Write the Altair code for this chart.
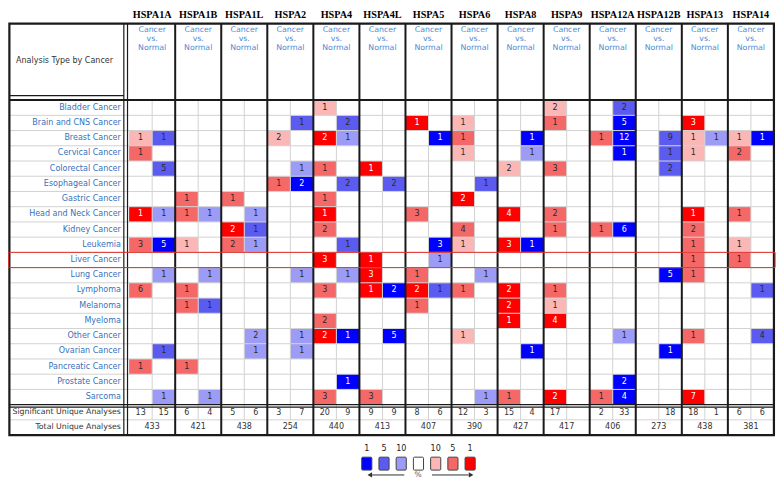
import altair as alt
import pandas as pd

GENES = ["HSPA1A", "HSPA1B", "HSPA1L", "HSPA2", "HSPA4", "HSPA4L", "HSPA5",
         "HSPA6", "HSPA8", "HSPA9", "HSPA12A", "HSPA12B", "HSPA13", "HSPA14"]
CANCERS = ["Bladder Cancer", "Brain and CNS Cancer", "Breast Cancer", "Cervical Cancer",
           "Colorectal Cancer", "Esophageal Cancer", "Gastric Cancer", "Head and Neck Cancer",
           "Kidney Cancer", "Leukemia", "Liver Cancer", "Lung Cancer", "Lymphoma", "Melanoma",
           "Myeloma", "Other Cancer", "Ovarian Cancer", "Pancreatic Cancer", "Prostate Cancer",
           "Sarcoma"]
SIG_UP = [13, 6, 5, 3, 20, 9, 8, 12, 15, 17, 2, None, 18, 6]
SIG_DOWN = [15, 4, 6, 7, 9, 9, 6, 3, 4, None, 33, 18, 1, 6]
TOTAL = [433, 421, 438, 254, 440, 413, 407, 390, 427, 417, 406, 273, 438, 381]
LEGEND_LABELS = ["1", "5", "10", "", "10", "5", "1"]
LEGEND_KEYS = ["down1", "down2", "down3", "none", "up3", "up2", "up1"]

# (cancer, direction, number of analyses, gene-rank level: 1 = top 1%, 2 = top 5%, 3 = top 10%)
HSPA1A = [("Breast Cancer", "up", 1, 3), ("Cervical Cancer", "up", 1, 2),
          ("Head and Neck Cancer", "up", 1, 1), ("Leukemia", "up", 3, 2),
          ("Lymphoma", "up", 6, 2), ("Pancreatic Cancer", "up", 1, 2),
          ("Breast Cancer", "down", 1, 2), ("Colorectal Cancer", "down", 5, 2),
          ("Head and Neck Cancer", "down", 1, 3), ("Leukemia", "down", 5, 1),
          ("Lung Cancer", "down", 1, 3), ("Ovarian Cancer", "down", 1, 2),
          ("Sarcoma", "down", 1, 3)]
HSPA1B = [("Gastric Cancer", "up", 1, 2), ("Head and Neck Cancer", "up", 1, 2),
          ("Leukemia", "up", 1, 3), ("Lymphoma", "up", 1, 2), ("Melanoma", "up", 1, 2),
          ("Pancreatic Cancer", "up", 1, 2),
          ("Head and Neck Cancer", "down", 1, 3), ("Lung Cancer", "down", 1, 3),
          ("Melanoma", "down", 1, 2), ("Sarcoma", "down", 1, 3)]
HSPA1L = [("Gastric Cancer", "up", 1, 2), ("Kidney Cancer", "up", 2, 1), ("Leukemia", "up", 2, 2),
          ("Head and Neck Cancer", "down", 1, 3), ("Kidney Cancer", "down", 1, 2),
          ("Leukemia", "down", 1, 3), ("Other Cancer", "down", 2, 3),
          ("Ovarian Cancer", "down", 1, 3)]
HSPA2 = [("Breast Cancer", "up", 2, 3), ("Esophageal Cancer", "up", 1, 2),
         ("Brain and CNS Cancer", "down", 1, 2), ("Colorectal Cancer", "down", 1, 3),
         ("Esophageal Cancer", "down", 2, 1), ("Lung Cancer", "down", 1, 3),
         ("Other Cancer", "down", 1, 3), ("Ovarian Cancer", "down", 1, 3)]
HSPA4 = [("Bladder Cancer", "up", 1, 3), ("Breast Cancer", "up", 2, 1),
         ("Colorectal Cancer", "up", 1, 2), ("Gastric Cancer", "up", 1, 2),
         ("Head and Neck Cancer", "up", 1, 1), ("Kidney Cancer", "up", 2, 2),
         ("Liver Cancer", "up", 3, 1), ("Lymphoma", "up", 3, 2), ("Myeloma", "up", 2, 2),
         ("Other Cancer", "up", 2, 1), ("Sarcoma", "up", 3, 2),
         ("Brain and CNS Cancer", "down", 2, 2), ("Breast Cancer", "down", 1, 3),
         ("Esophageal Cancer", "down", 2, 2), ("Leukemia", "down", 1, 2),
         ("Lung Cancer", "down", 1, 3), ("Other Cancer", "down", 1, 1),
         ("Prostate Cancer", "down", 1, 1)]
HSPA4L = [("Colorectal Cancer", "up", 1, 1), ("Liver Cancer", "up", 1, 1),
          ("Lung Cancer", "up", 3, 1), ("Lymphoma", "up", 1, 1), ("Sarcoma", "up", 3, 2),
          ("Esophageal Cancer", "down", 2, 2), ("Lymphoma", "down", 2, 1),
          ("Other Cancer", "down", 5, 1)]
HSPA5 = [("Brain and CNS Cancer", "up", 1, 1), ("Head and Neck Cancer", "up", 3, 2),
         ("Lung Cancer", "up", 1, 2), ("Lymphoma", "up", 2, 1), ("Melanoma", "up", 1, 2),
         ("Breast Cancer", "down", 1, 1), ("Leukemia", "down", 3, 1),
         ("Liver Cancer", "down", 1, 3), ("Lymphoma", "down", 1, 2)]
HSPA6 = [("Brain and CNS Cancer", "up", 1, 3), ("Breast Cancer", "up", 1, 2),
         ("Cervical Cancer", "up", 1, 3), ("Gastric Cancer", "up", 2, 1),
         ("Kidney Cancer", "up", 4, 2), ("Leukemia", "up", 1, 3), ("Lymphoma", "up", 1, 2),
         ("Other Cancer", "up", 1, 3),
         ("Esophageal Cancer", "down", 1, 2), ("Lung Cancer", "down", 1, 3),
         ("Sarcoma", "down", 1, 3)]
HSPA8 = [("Colorectal Cancer", "up", 2, 3), ("Head and Neck Cancer", "up", 4, 1),
         ("Leukemia", "up", 3, 1), ("Lymphoma", "up", 2, 1), ("Melanoma", "up", 2, 1),
         ("Myeloma", "up", 1, 1), ("Sarcoma", "up", 1, 2),
         ("Breast Cancer", "down", 1, 1), ("Cervical Cancer", "down", 1, 3),
         ("Leukemia", "down", 1, 1), ("Ovarian Cancer", "down", 1, 1)]
HSPA9 = [("Bladder Cancer", "up", 2, 3), ("Brain and CNS Cancer", "up", 1, 2),
         ("Colorectal Cancer", "up", 3, 2), ("Head and Neck Cancer", "up", 2, 2),
         ("Kidney Cancer", "up", 1, 2), ("Lymphoma", "up", 1, 2), ("Melanoma", "up", 1, 3),
         ("Myeloma", "up", 4, 1), ("Sarcoma", "up", 2, 1)]
HSPA12A = [("Breast Cancer", "up", 1, 2), ("Kidney Cancer", "up", 1, 2), ("Sarcoma", "up", 1, 2),
           ("Bladder Cancer", "down", 2, 2), ("Brain and CNS Cancer", "down", 5, 1),
           ("Breast Cancer", "down", 12, 1), ("Cervical Cancer", "down", 1, 1),
           ("Kidney Cancer", "down", 6, 1), ("Other Cancer", "down", 1, 3),
           ("Prostate Cancer", "down", 2, 1), ("Sarcoma", "down", 4, 1)]
HSPA12B = [("Breast Cancer", "down", 9, 2), ("Cervical Cancer", "down", 1, 2),
           ("Colorectal Cancer", "down", 2, 2), ("Lung Cancer", "down", 5, 1),
           ("Ovarian Cancer", "down", 1, 1)]
HSPA13 = [("Brain and CNS Cancer", "up", 3, 1), ("Breast Cancer", "up", 1, 3),
          ("Cervical Cancer", "up", 1, 3), ("Head and Neck Cancer", "up", 1, 1),
          ("Kidney Cancer", "up", 2, 2), ("Leukemia", "up", 1, 2), ("Liver Cancer", "up", 1, 2),
          ("Lung Cancer", "up", 1, 2), ("Other Cancer", "up", 1, 2), ("Sarcoma", "up", 7, 1),
          ("Breast Cancer", "down", 1, 3)]
HSPA14 = [("Breast Cancer", "up", 1, 3), ("Cervical Cancer", "up", 2, 2),
          ("Head and Neck Cancer", "up", 1, 2), ("Leukemia", "up", 1, 3),
          ("Liver Cancer", "up", 1, 2),
          ("Breast Cancer", "down", 1, 1), ("Lymphoma", "down", 1, 2),
          ("Other Cancer", "down", 4, 2)]

CELLS = {"HSPA1A": HSPA1A, "HSPA1B": HSPA1B, "HSPA1L": HSPA1L, "HSPA2": HSPA2,
         "HSPA4": HSPA4, "HSPA4L": HSPA4L, "HSPA5": HSPA5, "HSPA6": HSPA6,
         "HSPA8": HSPA8, "HSPA9": HSPA9, "HSPA12A": HSPA12A, "HSPA12B": HSPA12B,
         "HSPA13": HSPA13, "HSPA14": HSPA14}

# ---------------- layout (in column / row units) ----------------
X_MIN, X_MAX = -5.26, 28.09
Y_MIN, Y_MAX = -6.05, 24.95
LEFT, RIGHT = -5.2, 28.0
TOP, BOTTOM = -5.03, 22.0
NCOL = 2 * len(GENES)
NROW = len(CANCERS)

xs = alt.Scale(domain=[X_MIN, X_MAX], nice=False, zero=False)
ys = alt.Scale(domain=[Y_MIN, Y_MAX], nice=False, zero=False, reverse=True)

KEY_DOMAIN = ["up1", "up2", "up3", "down1", "down2", "down3", "none"]
KEY_RANGE = ["#ff0000", "#f46868", "#fbb6b6", "#0000ff", "#5b5bf0", "#9c9cf6", "#ffffff"]
fill_scale = alt.Scale(domain=KEY_DOMAIN, range=KEY_RANGE)

SANS = "DejaVu Sans"


def X(f="x"):
    return alt.X(f"{f}:Q", scale=xs, axis=None)


def Y(f="y"):
    return alt.Y(f"{f}:Q", scale=ys, axis=None)


# cells
cell_rows = []
for g, gene in enumerate(GENES):
    for cancer, d, n, lvl in CELLS[gene]:
        c = 2 * g + (0 if d == "up" else 1)
        r = CANCERS.index(cancer)
        cell_rows.append(dict(x=c, x2=c + 1, y=r, y2=r + 1, xm=c + 0.5, ym=r + 0.5,
                              key=f"{d}{lvl}", lvl=lvl, label=str(n)))
cells_df = pd.DataFrame(cell_rows)

cells = alt.Chart(cells_df).mark_rect().encode(
    x=X(), x2="x2:Q", y=Y(), y2="y2:Q",
    fill=alt.Fill("key:N", scale=fill_scale, legend=None))
cell_text = alt.Chart(cells_df).mark_text(font=SANS, fontSize=8, baseline="middle").encode(
    x=X("xm"), y=Y("ym"), text="label:N",
    color=alt.condition("datum.lvl == 1", alt.value("#ffffff"), alt.value("#2a2a2a")))

# light grid
light = []
for r in range(1, NROW):
    light.append(dict(x=LEFT, x2=RIGHT, y=r, y2=r))
light.append(dict(x=LEFT, x2=RIGHT, y=NROW + 1, y2=NROW + 1))
for g in range(len(GENES)):
    light.append(dict(x=2 * g + 1, x2=2 * g + 1, y=0, y2=NROW + 1))
light_df = pd.DataFrame(light)
light_rules = alt.Chart(light_df).mark_rule(color="#d2d2d2", strokeWidth=1).encode(
    x=X(), x2="x2:Q", y=Y(), y2="y2:Q")

# dark lines
thick = []
for g in range(1, len(GENES)):
    thick.append(dict(x=2 * g, x2=2 * g, y=TOP, y2=BOTTOM))
thick.append(dict(x=LEFT, x2=RIGHT, y=0, y2=0))
thick_df = pd.DataFrame(thick)
thick_rules = alt.Chart(thick_df).mark_rule(color="#1a1a1a", strokeWidth=2).encode(
    x=X(), x2="x2:Q", y=Y(), y2="y2:Q")

thin = [dict(x=-0.23, x2=-0.23, y=TOP, y2=BOTTOM),
        dict(x=-0.07, x2=-0.07, y=TOP, y2=BOTTOM),
        dict(x=LEFT, x2=RIGHT, y=NROW, y2=NROW),
        dict(x=LEFT, x2=RIGHT, y=NROW + 0.17, y2=NROW + 0.17),
        dict(x=LEFT, x2=-0.23, y=-0.3, y2=-0.3)]
thin_df = pd.DataFrame(thin)
thin_rules = alt.Chart(thin_df).mark_rule(color="#1a1a1a", strokeWidth=1.2).encode(
    x=X(), x2="x2:Q", y=Y(), y2="y2:Q")

frame_df = pd.DataFrame([dict(x=LEFT, x2=RIGHT, y=TOP, y2=BOTTOM)])
frame = alt.Chart(frame_df).mark_rect(fillOpacity=0, stroke="#1a1a1a", strokeWidth=2.2).encode(
    x=X(), x2="x2:Q", y=Y(), y2="y2:Q")

liver_i = CANCERS.index("Liver Cancer")
liver_df = pd.DataFrame([dict(x=X_MIN + 0.03, x2=RIGHT + 0.05, y=liver_i, y2=liver_i + 1)])
liver_box = alt.Chart(liver_df).mark_rect(fillOpacity=0, stroke="#e0302a", strokeWidth=1).encode(
    x=X(), x2="x2:Q", y=Y(), y2="y2:Q")

# header texts
gene_df = pd.DataFrame([dict(x=2 * g + 1, y=-5.6, label=gene) for g, gene in enumerate(GENES)])
gene_text = alt.Chart(gene_df).mark_text(font="Liberation Serif", fontSize=10.2, fontWeight="bold",
                                         baseline="middle", color="#000000").encode(
    x=X(), y=Y(), text="label:N")

hdr = []
for g in range(len(GENES)):
    for word, yy in zip(["Cancer", "vs.", "Normal"], [-4.62, -4.02, -3.42]):
        hdr.append(dict(x=2 * g + 1, y=yy, label=word))
hdr_df = pd.DataFrame(hdr)
hdr_text = alt.Chart(hdr_df).mark_text(font=SANS, fontSize=7.8, baseline="middle",
                                       color="#4a8ad6").encode(x=X(), y=Y(), text="label:N")

title_df = pd.DataFrame([dict(x=-4.91, y=-2.56, label="Analysis Type by Cancer")])
title_text = alt.Chart(title_df).mark_text(font=SANS, fontSize=8, align="left", baseline="middle",
                                           color="#333333").encode(x=X(), y=Y(), text="label:N")

row_df = pd.DataFrame([dict(x=-0.36, y=i + 0.5, label=c) for i, c in enumerate(CANCERS)])
row_text = alt.Chart(row_df).mark_text(font=SANS, fontSize=8, align="right", baseline="middle",
                                       color="#3572bd").encode(x=X(), y=Y(), text="label:N")

sum_lab_df = pd.DataFrame([dict(x=-0.36, y=NROW + 0.5, label="Significant Unique Analyses"),
                           dict(x=-0.36, y=NROW + 1.5, label="Total Unique Analyses")])
sum_lab = alt.Chart(sum_lab_df).mark_text(font=SANS, fontSize=7.8, align="right", baseline="middle",
                                          color="#333333").encode(x=X(), y=Y(), text="label:N")

nums = []
for g in range(len(GENES)):
    if SIG_UP[g] is not None:
        nums.append(dict(x=2 * g + 0.5, y=NROW + 0.55, label=str(SIG_UP[g])))
    if SIG_DOWN[g] is not None:
        nums.append(dict(x=2 * g + 1.5, y=NROW + 0.55, label=str(SIG_DOWN[g])))
    nums.append(dict(x=2 * g + 1, y=NROW + 1.5, label=str(TOTAL[g])))
nums_df = pd.DataFrame(nums)
nums_text = alt.Chart(nums_df).mark_text(font=SANS, fontSize=8, baseline="middle",
                                         color="#333333").encode(x=X(), y=Y(), text="label:N")

# legend
LX0, LDX, LHW = 10.32, 0.748, 0.22
leg = []
for k, (lab, key) in enumerate(zip(LEGEND_LABELS, LEGEND_KEYS)):
    cx = LX0 + LDX * k
    leg.append(dict(x=cx - LHW, x2=cx + LHW, xm=cx, y=23.45, y2=24.3, ym=22.92, key=key, label=lab))
leg_df = pd.DataFrame(leg)
leg_sq = alt.Chart(leg_df).mark_rect(stroke="#444444", strokeWidth=1, cornerRadius=1).encode(
    x=X(), x2="x2:Q", y=Y(), y2="y2:Q",
    fill=alt.Fill("key:N", scale=fill_scale, legend=None))
leg_lab = alt.Chart(leg_df).mark_text(font=SANS, fontSize=8, baseline="middle", color="#222222").encode(
    x=X("xm"), y=Y("ym"), text="label:N")

ARROW_Y = 24.62
arrow_df = pd.DataFrame([dict(x=10.55, x2=11.95, y=ARROW_Y, y2=ARROW_Y),
                         dict(x=13.15, x2=14.75, y=ARROW_Y, y2=ARROW_Y)])
arrows = alt.Chart(arrow_df).mark_rule(color="#333333", strokeWidth=1).encode(
    x=X(), x2="x2:Q", y=Y(), y2="y2:Q")
head_df = pd.DataFrame([dict(x=10.45, y=ARROW_Y, shape="triangle-left"),
                        dict(x=14.85, y=ARROW_Y, shape="triangle-right")])
heads = alt.Chart(head_df).mark_point(filled=True, size=28, color="#333333", opacity=1).encode(
    x=X(), y=Y(), shape=alt.Shape("shape:N", scale=None))
pct_df = pd.DataFrame([dict(x=12.55, y=ARROW_Y, label="%")])
pct = alt.Chart(pct_df).mark_text(font=SANS, fontSize=7.5, baseline="middle", color="#555555").encode(
    x=X(), y=Y(), text="label:N")

chart = alt.layer(
    cells, light_rules, cell_text, thick_rules, thin_rules, frame, liver_box,
    gene_text, hdr_text, title_text, row_text, sum_lab, nums_text,
    leg_sq, leg_lab, arrows, heads, pct
).properties(
    width=768, height=472, padding=0, autosize=alt.AutoSizeParams(type="none")
).configure_view(strokeWidth=0)

chart.save("out.html", embed_options={"renderer": "svg", "actions": False})
